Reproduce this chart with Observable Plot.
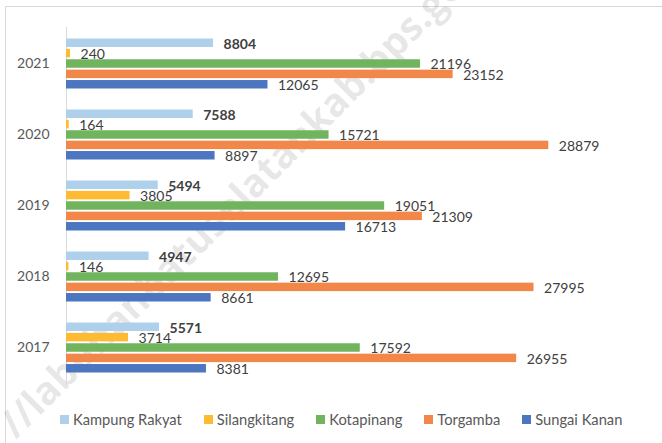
<!DOCTYPE html>
<html><head><meta charset="utf-8">
<script src="https://cdn.jsdelivr.net/npm/d3@7"></script>
<script src="https://cdn.jsdelivr.net/npm/@observablehq/plot@0.6"></script>
<style>
body{margin:0;background:#fff;font-family:Lato,"Open Sans",sans-serif;}
#wrap{position:relative;width:662px;height:443px;overflow:hidden;background:#fff;}
#frame{position:absolute;left:5px;top:6px;right:-2px;bottom:-2px;border-top:1px solid #d9d9d9;border-left:1px solid #d9d9d9;}
#wm{position:absolute;left:6px;top:402px;height:56px;line-height:56px;font:bold 39px "Open Sans",sans-serif;color:rgba(0,0,0,0.1);transform:rotate(-45deg);transform-origin:0 50%;white-space:nowrap;}
#chart{position:absolute;left:0;top:0;}
#legend{position:absolute;top:410px;left:60px;display:flex;align-items:center;font:14.7px Lato,sans-serif;color:#595959;white-space:nowrap;}
#legend .it{display:flex;align-items:center;margin-right:22px;}
#legend .sw{width:9px;height:9px;margin-right:4px;}
</style></head>
<body>
<div id="wrap">
  <div id="frame"></div>
  <div id="wm">//labuhanbatuselatankab.bps.go.id</div>
  <div id="chart"></div>
  <div id="legend"></div>
</div>
<script>
const years = ["2021", "2020", "2019", "2018", "2017"];
const seriesNames = ["Kampung Rakyat", "Silangkitang", "Kotapinang", "Torgamba", "Sungai Kanan"];
const kampungRakyat = [8804, 7588, 5494, 4947, 5571];
const silangkitang = [240, 164, 3805, 146, 3714];
const kotapinang = [21196, 15721, 19051, 12695, 17592];
const torgamba = [23152, 28879, 21309, 27995, 26955];
const sungaiKanan = [12065, 8897, 16713, 8661, 8381];
const colors = ["#AED0EB", "#FDBA33", "#71B45E", "#F2874A", "#4D76C0"];

const seriesValues = [kampungRakyat, silangkitang, kotapinang, torgamba, sungaiKanan];

const W = 662, H = 400, mt = 27, mb = 15, ml = 66, mr = 95;
const pIn = 0.275, pOut = 0.1375;
const step = (H - mt - mb) / (years.length - pIn + 2 * pOut);
const bw = step * (1 - pIn);
const slot = bw / seriesNames.length;

const marks = [Plot.ruleX([0], {stroke: "#d9d9d9", strokeWidth: 1})];
seriesValues.forEach((vals, i) => {
  const data = years.map((y, j) => ({year: y, value: vals[j], series: seriesNames[i]}));
  marks.push(Plot.barX(data, {
    x: "value", y: "year", fill: colors[i],
    insetTop: i * slot + 0.5, insetBottom: (seriesNames.length - 1 - i) * slot + 0.5
  }));
  marks.push(Plot.text(data, {
    x: "value", y: "year", text: d => String(d.value),
    dx: 10, dy: -bw / 2 + (i + 0.5) * slot + 1,
    textAnchor: "start", fill: "#404040", fontSize: 14,
    fontWeight: i === 0 ? "bold" : "normal"
  }));
});
marks.push(Plot.axisY({tickSize: 0, tickPadding: 17, fontSize: 14, fill: "#595959", label: null}));

const chart = Plot.plot({
  width: W, height: H,
  marginTop: mt, marginBottom: mb, marginLeft: ml, marginRight: mr,
  style: {fontFamily: "Lato, sans-serif", fontSize: "14px", background: "transparent"},
  x: {domain: [0, 30000], axis: null},
  y: {domain: years, paddingInner: pIn, paddingOuter: pOut, label: null},
  marks
});
document.getElementById("chart").append(chart);

const legend = document.getElementById("legend");
seriesNames.forEach((s, i) => {
  const it = document.createElement("div"); it.className = "it";
  const sw = document.createElement("div"); sw.className = "sw"; sw.style.background = colors[i];
  const t = document.createElement("span"); t.textContent = s;
  it.append(sw, t); legend.append(it);
});
</script>
</body></html>
